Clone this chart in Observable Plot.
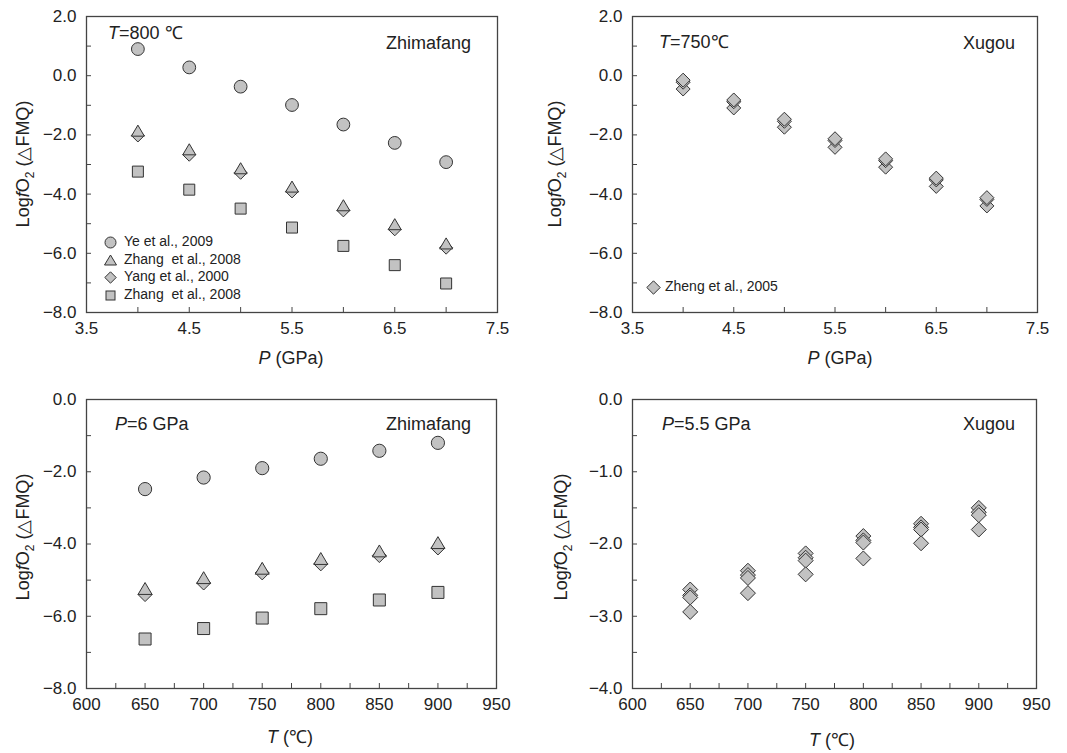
<!DOCTYPE html>
<html>
<head>
<meta charset="utf-8">
<script src="https://cdn.jsdelivr.net/npm/d3@7"></script>
<script src="https://cdn.jsdelivr.net/npm/@observablehq/plot@0.6"></script>
<style>
  body { margin: 0; background: #fff; }
  #wrap { position: relative; width: 1067px; height: 753px; font-family: "Liberation Sans", Arial, sans-serif; color: #222; overflow: hidden; }
  .panel { position: absolute; }
  .ann { position: absolute; font-size: 18px; white-space: nowrap; line-height: 1; }
  .ylab { position: absolute; font-size: 18px; white-space: nowrap; transform: translate(-50%, -50%) rotate(-90deg); line-height: 1; }
  .xlab { position: absolute; font-size: 18px; white-space: nowrap; transform: translate(-50%, -50%); line-height: 1; }
  .ylab sub { font-size: 12px; }
  .leg { position: absolute; font-size: 14px; white-space: nowrap; line-height: 1; }
</style>
</head>
<body>
<div id="wrap"></div>
<script>
// ---------- data ----------
const P = [4, 4.5, 5, 5.5, 6, 6.5, 7];
const ye2009_P = [0.90, 0.28, -0.37, -0.99, -1.65, -2.27, -2.92];
const zhang2008tri_P = [-1.90, -2.53, -3.17, -3.79, -4.42, -5.06, -5.71];
const yang2000_P = [-2.02, -2.67, -3.28, -3.91, -4.55, -5.19, -5.81];
const zhang2008sq_P = [-3.24, -3.85, -4.49, -5.13, -5.75, -6.40, -7.02];

const xugouP_a = [-0.15, -0.82, -1.47, -2.13, -2.81, -3.46, -4.12];
const xugouP_b = [-0.22, -0.88, -1.54, -2.19, -2.87, -3.52, -4.18];
const xugouP_c = [-0.45, -1.09, -1.74, -2.42, -3.09, -3.74, -4.40];

const T = [650, 700, 750, 800, 850, 900];
const ye2009_T = [-2.48, -2.16, -1.90, -1.64, -1.42, -1.20];
const zhang2008tri_T = [-5.27, -4.97, -4.71, -4.44, -4.23, -4.00];
const yang2000_T = [-5.40, -5.08, -4.80, -4.55, -4.32, -4.11];
const zhang2008sq_T = [-6.63, -6.34, -6.05, -5.79, -5.55, -5.34];

const xugouT_a = [-2.63, -2.37, -2.13, -1.89, -1.72, -1.50];
const xugouT_b = [-2.71, -2.43, -2.19, -1.95, -1.77, -1.56];
const xugouT_c = [-2.74, -2.47, -2.23, -1.98, -1.80, -1.60];
const xugouT_d = [-2.94, -2.68, -2.42, -2.20, -1.99, -1.80];

const pTicks = [3.5, 4, 4.5, 5, 5.5, 6, 6.5, 7, 7.5];
const pLabels = [3.5, 4.5, 5.5, 6.5, 7.5];
const tTicks = d3.range(600, 951, 25);
const tLabels = [600, 650, 700, 750, 800, 850, 900, 950];
const yTicksTop = [-8, -7, -6, -5, -4, -3, -2, -1, 0, 1, 2];
const yLabelsTop = [-8, -6, -4, -2, 0, 2];
const yTicksBL = [-8, -7, -6, -5, -4, -3, -2, -1, 0];
const yLabelsBL = [-8, -6, -4, -2, 0];
const yTicksBR = [-4, -3.5, -3, -2.5, -2, -1.5, -1, -0.5, 0];
const yLabelsBR = [-4, -3, -2, -1, 0];

// ---------- symbols ----------
const rad = s => Math.sqrt(s / Math.PI);
const circleSym = {draw(c, s) { const r = rad(s); c.moveTo(r, 0); c.arc(0, 0, r, 0, 2 * Math.PI); }};
const squareSym = {draw(c, s) { const r = rad(s); c.rect(-r, -r, 2 * r, 2 * r); }};
const triSym = {draw(c, s) { const r = rad(s); c.moveTo(0, -1.05 * r); c.lineTo(r, 0.65 * r); c.lineTo(-r, 0.65 * r); c.closePath(); }};
const diaSym = {draw(c, s) { const r = rad(s); c.moveTo(0, -r); c.lineTo(r, 0); c.lineTo(0, r); c.lineTo(-r, 0); c.closePath(); }};

const rows = (xs, ys) => xs.map((x, i) => ({x, y: ys[i]}));
const FILL = "#c2c2c2";
const STROKE = "#333";
const fmt = d3.format(".1f");

function dots(xs, ys, symbol, r, fill = FILL) {
  return Plot.dot(rows(xs, ys), {x: "x", y: "y", symbol, r, fill, stroke: STROKE, strokeWidth: 1});
}

function panel({left, top, width, height, m, xDomain, xTicks, xLabels, yDomain, yTicks, yLabels, xFormat, marks}) {
  const chart = Plot.plot({
    width, height,
    marginLeft: m[0], marginRight: m[1], marginTop: m[2], marginBottom: m[3],
    style: {fontFamily: "'Liberation Sans', Arial, sans-serif", fontSize: "17px", color: "#222", background: "transparent", overflow: "visible"},
    x: {domain: xDomain, label: null},
    y: {domain: yDomain, label: null},
    marks: [
      Plot.frame({stroke: "#444", strokeWidth: 1.3}),
      Plot.axisX({ticks: xTicks, tickSize: -5, fill: "none", stroke: "#444", label: null}),
      Plot.axisX({ticks: xLabels, tickSize: 0, tickPadding: 9, tickFormat: xFormat, fill: "#222", label: null}),
      Plot.axisY({ticks: yTicks, tickSize: -5, fill: "none", stroke: "#444", label: null}),
      Plot.axisY({ticks: yLabels, tickSize: 0, tickPadding: 10, tickFormat: fmt, fill: "#222", label: null}),
      ...marks
    ]
  });
  chart.classList.add("panel");
  chart.style.left = left + "px";
  chart.style.top = top + "px";
  document.getElementById("wrap").appendChild(chart);
}

// Top-left: Zhimafang, T = 800 °C
panel({left: 0, top: 0, width: 530, height: 370, m: [86, 33, 16, 58],
  xDomain: [3.5, 7.5], xTicks: pTicks, xLabels: pLabels, xFormat: fmt,
  yDomain: [-8, 2], yTicks: yTicksTop, yLabels: yLabelsTop,
  marks: [
    dots(P, ye2009_P, circleSym, 6.4),
    dots(P, yang2000_P, diaSym, 6.5),
    dots(P, zhang2008tri_P, triSym, 6.5),
    dots(P, zhang2008sq_P, squareSym, 5.5)
  ]});

// Top-right: Xugou, T = 750 °C
panel({left: 530, top: 0, width: 537, height: 370, m: [102, 30, 16, 58],
  xDomain: [3.5, 7.5], xTicks: pTicks, xLabels: pLabels, xFormat: fmt,
  yDomain: [-8, 2], yTicks: yTicksTop, yLabels: yLabelsTop,
  marks: [
    dots(P, xugouP_c, diaSym, 7),
    dots(P, xugouP_b, diaSym, 7),
    dots(P, xugouP_a, diaSym, 7)
  ]});

// Bottom-left: Zhimafang, P = 6 GPa
panel({left: 0, top: 370, width: 530, height: 383, m: [86, 34, 29, 65],
  xDomain: [600, 950], xTicks: tTicks, xLabels: tLabels, xFormat: d3.format("d"),
  yDomain: [-8, 0], yTicks: yTicksBL, yLabels: yLabelsBL,
  marks: [
    dots(T, ye2009_T, circleSym, 6.6),
    dots(T, yang2000_T, diaSym, 7),
    dots(T, zhang2008tri_T, triSym, 7),
    dots(T, zhang2008sq_T, squareSym, 6)
  ]});

// Bottom-right: Xugou, P = 5.5 GPa
panel({left: 530, top: 370, width: 537, height: 383, m: [102, 31, 29, 65],
  xDomain: [600, 950], xTicks: tTicks, xLabels: tLabels, xFormat: d3.format("d"),
  yDomain: [-4, 0], yTicks: yTicksBR, yLabels: yLabelsBR,
  marks: [
    dots(T, xugouT_a, diaSym, 7.5),
    dots(T, xugouT_b, diaSym, 7.5),
    dots(T, xugouT_c, diaSym, 7.5),
    dots(T, xugouT_d, diaSym, 7.5)
  ]});

// ---------- text overlays ----------
const wrap = document.getElementById("wrap");
function add(cls, html, style) {
  const d = document.createElement("div");
  d.className = cls;
  d.innerHTML = html;
  Object.assign(d.style, style);
  wrap.appendChild(d);
  return d;
}
const ylabHTML = "Log<i>f</i>O<sub>2</sub> (△FMQ)";
add("ylab", ylabHTML, {left: "25px", top: "164px"});
add("ylab", ylabHTML, {left: "557px", top: "164px"});
add("ylab", ylabHTML, {left: "25px", top: "537px"});
add("ylab", ylabHTML, {left: "563px", top: "537px"});

add("xlab", "<i>P</i> (GPa)", {left: "291px", top: "358px"});
add("xlab", "<i>P</i> (GPa)", {left: "840px", top: "358px"});
add("xlab", "<i>T</i> (℃)", {left: "290px", top: "737px"});
add("xlab", "<i>T</i> (℃)", {left: "832px", top: "740px"});

add("ann", "<i>T</i>=800 ℃", {left: "108px", top: "24px"});
add("ann", "Zhimafang", {right: (1067 - 471) + "px", top: "34px"});
add("ann", "<i>T</i>=750℃", {left: "659px", top: "33px"});
add("ann", "Xugou", {right: (1067 - 1015) + "px", top: "34px"});
add("ann", "<i>P</i>=6 GPa", {left: "115px", top: "415px"});
add("ann", "Zhimafang", {right: (1067 - 471) + "px", top: "415px"});
add("ann", "<i>P</i>=5.5 GPa", {left: "662px", top: "415px"});
add("ann", "Xugou", {right: (1067 - 1015) + "px", top: "415px"});

// legends
function legSym(kind, size) {
  const s = size, h = s / 2;
  let shape;
  if (kind === "circle") shape = `<circle cx="${h}" cy="${h}" r="${h - 1}"/>`;
  else if (kind === "square") shape = `<rect x="${h - 4.5}" y="${h - 4.5}" width="9" height="9"/>`;
  else if (kind === "triangle") shape = `<path d="M${h},1 L${s - 0.5},${s - 2} L0.5,${s - 2} Z"/>`;
  else shape = `<path d="M${h},0.8 L${s - 0.8},${h} L${h},${s - 0.8} L0.8,${h} Z"/>`;
  return `<svg width="${s}" height="${s}" style="position:absolute;left:${-s / 2}px;top:${-s / 2}px;overflow:visible" fill="${FILL}" stroke="${STROKE}" stroke-width="1">${shape}</svg>`;
}
const legendTL = [
  {kind: "circle", text: "Ye et al., 2009", y: 242},
  {kind: "triangle", text: "Zhang&nbsp; et al., 2008", y: 260},
  {kind: "diamond", text: "Yang et al., 2000", y: 277},
  {kind: "square", text: "Zhang&nbsp; et al., 2008", y: 295}
];
legendTL.forEach(d => {
  add("leg", legSym(d.kind, 13), {left: "110px", top: d.y + "px"});
  add("leg", d.text, {left: "124px", top: (d.y - 8) + "px"});
});
add("leg", legSym("diamond", 15), {left: "653px", top: "287px"});
add("leg", "Zheng et al., 2005", {left: "665px", top: "279px"});
</script>
</body>
</html>
